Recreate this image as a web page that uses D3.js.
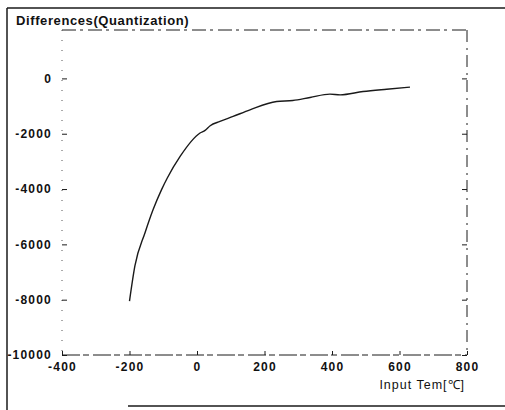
<!DOCTYPE html>
<html>
<head>
<meta charset="utf-8">
<script src="https://cdn.jsdelivr.net/npm/d3@7"></script>
<style>
  body { margin: 0; background: #fff; }
  svg { display: block; }
  text { font-family: "Liberation Sans", Arial, sans-serif; fill: #111; }
</style>
</head>
<body>
<svg id="chart"></svg>
<script>
// values
const temps  = [-200, -184, -154, -130, -105, -88, -50, 9, 24, 39, 68, 107, 157, 236, 284, 335, 394, 424, 492, 562, 631];
const diffs  = [-8050, -6780, -5580, -4740, -4020, -3600, -2820, -1975, -1880, -1710, -1555, -1375, -1135, -835, -800, -690, -570, -595, -475, -390, -315];
const xTicks = [-400, -200, 0, 200, 400, 600, 800];
const yTicks = [0, -2000, -4000, -6000, -8000, -10000];

const W = 505, H = 410;
const svg = d3.select('#chart').attr('width', W).attr('height', H);

// plot area
const margin = { top: 30, right: 38, bottom: 55, left: 62 };
const iw = W - margin.left - margin.right;
const ih = H - margin.top - margin.bottom;

const x = d3.scaleLinear().domain([-400, 800]).range([0, iw]);
const y = d3.scaleLinear().domain([-10000, 1750]).range([ih, 0]);

const ink = '#1a1a1a';

// outer figure frame (scan edges)
svg.append('line').attr('x1', 7).attr('y1', 8).attr('x2', W).attr('y2', 8)
  .attr('stroke', ink).attr('stroke-width', 1.3);
svg.append('line').attr('x1', 7).attr('y1', 8).attr('x2', 7).attr('y2', H)
  .attr('stroke', ink).attr('stroke-width', 1.5);
svg.append('line').attr('x1', 128).attr('y1', 406).attr('x2', W).attr('y2', 406)
  .attr('stroke', ink).attr('stroke-width', 1.3);

svg.append('text')
  .attr('x', 16).attr('y', 25)
  .style('font-size', '13px').style('font-weight', 'bold')
  .style('letter-spacing', '0.6px')
  .text('Differences(Quantization)');

const g = svg.append('g').attr('transform', `translate(${margin.left},${margin.top})`);

// plot box, drawn dashed like the worn print
g.append('line').attr('x1', 0).attr('y1', 0).attr('x2', iw).attr('y2', 0)
  .attr('stroke', ink).attr('stroke-dasharray', '14,4,3,5').attr('stroke-width', 1);
g.append('line').attr('x1', iw).attr('y1', 0).attr('x2', iw).attr('y2', ih)
  .attr('stroke', ink).attr('stroke-dasharray', '12,6,2,5').attr('stroke-width', 1);
g.append('line').attr('x1', 0).attr('y1', ih).attr('x2', iw).attr('y2', ih)
  .attr('stroke', ink).attr('stroke-dasharray', '18,3,6,4').attr('stroke-width', 1);
g.append('line').attr('x1', 0).attr('y1', 0).attr('x2', 0).attr('y2', ih)
  .attr('stroke', '#555').attr('stroke-dasharray', '1,9').attr('stroke-width', 1);

// left axis, inward ticks
const yAxis = g.append('g')
  .call(d3.axisLeft(y).tickValues(yTicks).tickSize(-5).tickPadding(10).tickFormat(d3.format('d')));
// right side ticks
const yAxisR = g.append('g').attr('transform', `translate(${iw},0)`)
  .call(d3.axisRight(y).tickValues(yTicks).tickSize(-5).tickFormat(''));
// bottom axis
const xAxis = g.append('g').attr('transform', `translate(0,${ih})`)
  .call(d3.axisBottom(x).tickValues(xTicks).tickSize(-4).tickPadding(7).tickFormat(d3.format('d')));

[yAxis, yAxisR, xAxis].forEach(a => {
  a.select('.domain').remove();
  a.selectAll('line').attr('stroke', ink);
});
[yAxis, xAxis].forEach(a => {
  a.selectAll('text')
    .style('font-size', '12px').style('font-weight', 'bold')
    .style('letter-spacing', '1.2px').style('font-family', '"Liberation Sans", Arial, sans-serif')
    .attr('fill', ink);
});
// minus signs in the scan are short hyphens
yAxis.selectAll('text').text(d => String(d));
xAxis.selectAll('text').text(d => String(d));

// x axis title
svg.append('text')
  .attr('x', margin.left + iw - 2).attr('y', 389)
  .attr('text-anchor', 'end')
  .style('font-size', '12.5px').style('letter-spacing', '1px')
  .text('Input Tem[℃]');

// curve
const pts = temps.map((t, i) => [t, diffs[i]]);
g.append('path')
  .datum(pts)
  .attr('fill', 'none')
  .attr('stroke', ink)
  .attr('stroke-width', 1.4)
  .attr('d', d3.line().x(d => x(d[0])).y(d => y(d[1])).curve(d3.curveMonotoneX));
</script>
</body>
</html>
